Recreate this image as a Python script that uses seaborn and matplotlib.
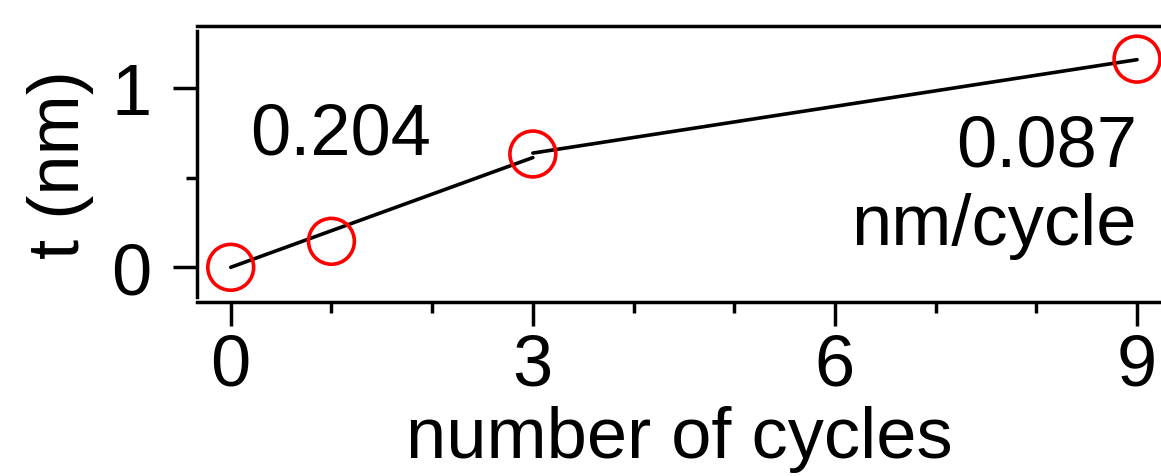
import matplotlib
matplotlib.use("Agg")
import matplotlib.pyplot as plt
import seaborn as sns
import pandas as pd
from matplotlib.ticker import MultipleLocator, FixedLocator

# data
cycles = [0, 1, 3, 9]
thickness = [0.0, 0.145, 0.632, 1.161]
fit1_cycles = [0, 3]
fit1_thickness = [0.0, 0.612]
fit2_cycles = [3, 9]
fit2_thickness = [0.637, 1.158]
x_ticks = [0, 3, 6, 9]
y_ticks = [0, 1]
rate_early = "0.204"
rate_late = "0.087"
rate_unit = "nm/cycle"

sns.set_theme(style="white")
plt.rcParams['font.family'] = ['Liberation Sans', 'DejaVu Sans']

fig = plt.figure(figsize=(11.61, 4.77), dpi=100)
ax = fig.add_axes([197/1161, 174/477, 1 - 197/1161, 276/477])

df_fit = pd.DataFrame({
    "x": fit1_cycles + fit2_cycles,
    "y": fit1_thickness + fit2_thickness,
    "seg": ["early"] * len(fit1_cycles) + ["late"] * len(fit2_cycles),
})
df_pts = pd.DataFrame({"x": cycles, "y": thickness})
sns.lineplot(data=df_fit, x="x", y="y", units="seg", estimator=None, ax=ax,
             color="black", linewidth=2.6, zorder=2)
sns.scatterplot(data=df_pts, x="x", y="y", ax=ax, marker="o", s=1090,
                facecolor="none", edgecolor="#ff0000", linewidth=2.6, zorder=3)

ax.set_xlim(-0.335, 9.238)
ax.set_ylim(-0.1935, 1.3458)

for s in ["left", "top", "bottom"]:
    ax.spines[s].set_visible(True)
    ax.spines[s].set_color("black")
    ax.spines[s].set_linewidth(2.5)
ax.spines["right"].set_visible(False)
ax.spines["left"].set_bounds(-0.166, 1.318)

ax.xaxis.set_major_locator(FixedLocator(x_ticks))
ax.xaxis.set_minor_locator(MultipleLocator(1))
ax.yaxis.set_major_locator(FixedLocator(y_ticks))
ax.yaxis.set_minor_locator(MultipleLocator(0.5))
ax.tick_params(axis="both", which="major", direction="out", length=17, width=2.5,
               color="black", labelsize=52, labelcolor="black")
ax.tick_params(axis="both", which="minor", direction="out", length=8, width=2.5, color="black")
ax.tick_params(axis="x", which="both", bottom=True, top=False)
ax.tick_params(axis="y", which="both", left=True, right=False)
ax.tick_params(axis="x", which="major", pad=5)
ax.tick_params(axis="y", which="major", pad=16)

ax.set_xlabel("number of cycles", fontsize=52, color="black", labelpad=4)
ax.set_ylabel("t (nm)", fontsize=52, color="black", labelpad=12)

ax.text(0.19, 0.637, rate_early, fontsize=52, ha="left", va="baseline", color="black")
ax.text(9.0, 0.565, rate_late, fontsize=52, ha="right", va="baseline", color="black")
ax.text(9.0, 0.130, rate_unit, fontsize=52, ha="right", va="baseline", color="black")

fig.savefig("out.png", dpi=100)
